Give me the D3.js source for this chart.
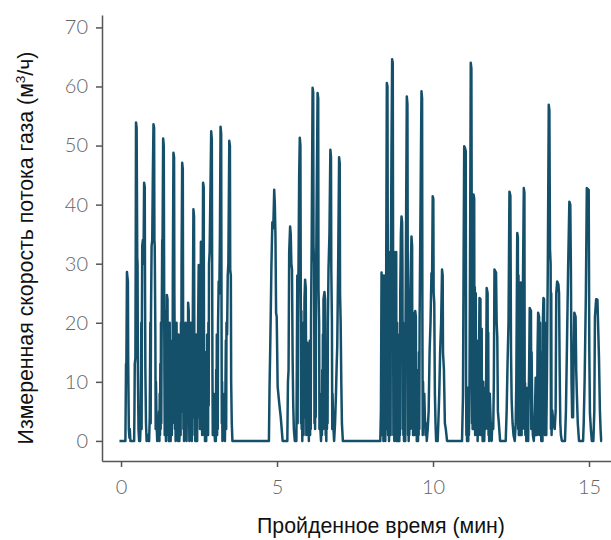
<!DOCTYPE html>
<html>
<head>
<meta charset="utf-8">
<script src="https://cdn.jsdelivr.net/npm/d3@7"></script>
<style>
  body { margin: 0; background: #fff; }
  .tick text { font-family: Lato, "Open Sans", sans-serif; font-weight: 300; fill: #666; }
  .title { font-family: "Liberation Sans", Arial, sans-serif; fill: #111; }
</style>
</head>
<body>
<script>
var burst1 = [[-0.05,0],[0.14,0],[0.16,13],[0.17,12],[0.19,28.6],[0.20,28],[0.22,27],[0.23,13],[0.25,2],[0.27,0.5],[0.28,2],[0.30,0],
  [0.42,0],[0.43,5],[0.44,13],[0.46,14],[0.47,30],[0.48,53.9],[0.50,53],[0.51,42],[0.52,31],[0.53,30],[0.54,12],[0.56,2],[0.58,0],
  [0.61,0],[0.63,3],[0.65,20],[0.66,2],[0.67,22],[0.68,33],[0.70,34],[0.72,30],[0.74,43.7],[0.76,43],[0.77,25],[0.78,12],[0.80,3],[0.82,0],[0.85,1],[0.87,0],
  [0.90,0],[0.92,4],[0.94,20],[0.95,3],[0.96,21],[0.98,33],[1.00,34],[1.02,45],[1.04,53.6],[1.06,53],[1.07,34],[1.08,33],[1.10,18],[1.11,2],[1.12,10],[1.14,3],[1.16,0],
  [1.20,1],[1.22,5],[1.23,0],[1.24,8],[1.25,1],[1.26,13],[1.27,2],[1.28,20],[1.29,3],[1.30,16],[1.32,34],[1.33,33],[1.35,51.2],[1.37,50],
  [1.38,30],[1.39,12],[1.40,1],[1.41,8],[1.42,2],[1.43,10],[1.44,0],[1.45,22],[1.46,15],[1.47,24.7],[1.49,24],[1.50,10],[1.51,1],[1.52,6],
  [1.53,0],[1.54,12],[1.55,4],[1.56,20],[1.57,2],[1.58,8],[1.59,0],[1.60,3],[1.61,10],[1.62,14],[1.63,1],[1.64,17],[1.65,3],[1.66,28],
  [1.68,48.8],[1.70,48],[1.71,25],[1.72,16],[1.73,2],[1.74,8],[1.75,0],[1.76,15],[1.77,4],[1.78,20],[1.79,1],[1.80,12],[1.81,3],[1.82,5],
  [1.83,0],[1.84,18],[1.85,2],[1.86,10],[1.87,0],[1.88,3],[1.89,7],[1.90,12],[1.91,1],[1.92,20],[1.93,5],[1.94,30],[1.96,47.1],[1.98,46],
  [1.99,20],[2.00,2],[2.01,10],[2.02,0],[2.03,15],[2.04,3],[2.05,8],[2.06,1],[2.07,20],[2.08,4],[2.09,12],[2.10,0],[2.11,5],[2.12,9],
  [2.13,18],[2.14,3],[2.15,23.4],[2.17,22],[2.18,10],[2.19,0],[2.20,3],[2.21,8],[2.22,15],[2.23,2],[2.24,20],[2.25,1],[2.26,8],[2.27,0],
  [2.28,15],[2.29,4],[2.30,20],[2.32,39.2],[2.34,38],[2.35,15],[2.36,1],[2.37,5],[2.38,0],[2.39,12],[2.40,3],[2.41,18],[2.42,1],[2.43,8],
  [2.44,0],[2.45,15],[2.46,4],[2.47,20],[2.49,29.8],[2.51,29],[2.52,15],[2.53,2],[2.54,10],[2.56,33.7],[2.57,20],[2.58,3],[2.59,12],
  [2.60,1],[2.61,20],[2.63,43.7],[2.65,43],[2.66,15],[2.67,1],[2.68,8],[2.69,0],[2.70,15],[2.71,3],[2.72,5],[2.73,0],[2.74,12],[2.75,2],
  [2.76,18],[2.77,4],[2.78,10],[2.79,1],[2.80,20],[2.81,6],[2.82,30],[2.84,32],[2.86,40],[2.89,52.4],[2.91,51],[2.92,30],[2.93,12],
  [2.94,1],[2.95,3],[2.97,8],[2.99,2],[3.01,0],[3.03,5],[3.04,0],[3.05,12],[3.06,2],[3.07,18],[3.08,1],[3.09,10],[3.10,2],[3.11,20],
  [3.13,27],[3.15,25],[3.17,35],[3.19,53.2],[3.21,52],[3.22,25],[3.23,3],[3.24,10],[3.25,0],[3.26,4],[3.28,6],[3.30,2],[3.32,8],[3.33,0],
  [3.34,5],[3.36,17],[3.37,2],[3.38,20],[3.40,18],[3.42,28],[3.44,30],[3.47,50.8],[3.49,50],[3.50,29],[3.52,28],[3.53,10],[3.55,3],[3.57,0]];

var burst2 = [[4.74,0],[4.76,9],[4.78,15],[4.80,22],[4.82,29.5],[4.85,37],[4.88,36],[4.91,42.5],[4.93,40],[4.95,34.6],[4.97,21.7],[4.99,21],
  [5.02,9.2],[5.07,6.4],[5.12,4],[5.18,0],
  [5.33,0],[5.35,10],[5.37,12],[5.39,32],[5.42,36.3],[5.44,35],[5.46,30],[5.48,29],[5.50,14],[5.52,6],[5.54,2],[5.57,0],[5.62,0],[5.63,8],
  [5.65,28],[5.66,3],[5.67,20],[5.69,30],[5.71,45],[5.73,51.3],[5.75,50],[5.76,28],[5.77,3],[5.78,22],[5.79,2],[5.80,10],[5.81,0],[5.82,15],
  [5.83,3],[5.84,20],[5.85,1],[5.86,14],[5.87,4],[5.88,24],[5.90,27.3],[5.92,26],[5.93,15],[5.94,1],[5.95,8],[5.96,2],[5.97,16.6],[5.99,14],
  [6.00,1],[6.01,6],[6.02,0],[6.03,12],[6.04,3],[6.05,17],[6.06,1],[6.07,8],[6.08,2],[6.09,20],[6.11,33],[6.14,59.8],[6.16,59],[6.17,33],
  [6.19,30],[6.20,3],[6.21,18],[6.22,2],[6.23,12],[6.24,4],[6.25,25],[6.27,40],[6.30,58.9],[6.32,58],[6.33,25.6],[6.35,20],[6.36,2],[6.37,8],
  [6.39,2],[6.41,0],[6.43,5],[6.44,1],[6.45,12],[6.46,3],[6.47,18],[6.48,2],[6.49,24],[6.52,25.2],[6.54,24],[6.55,14],[6.56,1],[6.57,5],
  [6.58,0],[6.59,12],[6.60,2],[6.61,15],[6.62,3],[6.63,20],[6.65,29],[6.68,35],[6.71,49.3],[6.73,48],[6.74,29],[6.76,20],[6.77,2],[6.78,8],
  [6.80,3],[6.83,0],[6.86,3],[6.89,8],[6.91,12.5],[6.93,16],[6.96,30],[6.99,48],[7.01,47],[7.02,25],[7.04,20],[7.06,10],[7.08,3],[7.11,0]];

var burst3 = [[8.31,0],[8.33,5],[8.35,28.5],[8.36,2],[8.37,28],[8.38,1],[8.39,5],[8.40,27],[8.41,0],[8.42,10],[8.43,28],[8.44,1],[8.45,3],
  [8.46,25],[8.47,0],[8.48,8],[8.49,2],[8.50,30],[8.52,60.6],[8.54,60],[8.55,32],[8.56,1],[8.57,10],[8.58,32],[8.59,0],[8.60,5],[8.61,30],
  [8.62,2],[8.63,15],[8.64,1],[8.65,32],[8.67,50],[8.69,64.6],[8.71,64],[8.72,32],[8.73,1],[8.74,8],[8.75,32],[8.76,0],[8.77,5],[8.78,31],
  [8.79,2],[8.80,12],[8.81,1],[8.82,32],[8.83,0],[8.84,3],[8.85,20],[8.86,1],[8.87,6],[8.88,0],[8.89,18],[8.90,2],[8.91,3],[8.92,0],[8.93,12],
  [8.94,1],[8.95,25],[8.97,35],[8.99,38],[9.01,37],[9.02,30],[9.03,2],[9.04,20],[9.05,1],[9.06,5],[9.07,0],[9.08,15],[9.09,2],[9.10,8],
  [9.11,0],[9.12,20],[9.14,40],[9.16,58.3],[9.18,57],[9.19,30],[9.20,1],[9.21,15],[9.22,0],[9.23,3],[9.24,1],[9.25,12],[9.26,2],[9.27,25],
  [9.29,30],[9.31,34.6],[9.33,33],[9.34,2],[9.35,15],[9.36,1],[9.37,21.7],[9.39,20],[9.40,1],[9.41,8],[9.42,2],[9.43,22],[9.45,21],[9.46,1],
  [9.47,8],[9.48,0],[9.49,3],[9.50,1],[9.51,12],[9.52,0],[9.53,5],[9.54,1],[9.55,15],[9.56,2],[9.57,20],[9.60,40],[9.63,59.2],[9.65,58],
  [9.66,20],[9.67,1],[9.68,10],[9.70,3],[9.72,8],[9.74,4],[9.76,1],[9.78,3],[9.80,0],[9.83,2],[9.86,5],[9.89,15],[9.92,20],[9.95,28.4],
  [9.97,27],[9.99,41.4],[10.01,41],[10.02,25],[10.04,23.4],[10.06,8],[10.08,3],[10.10,0],[10.15,0],[10.17,3],[10.20,8],[10.23,15.4],
  [10.26,20],[10.29,29],[10.31,28],[10.32,15],[10.35,12],[10.38,3],[10.41,2],[10.45,0]];

var burst4 = [[10.93,0],[10.96,7.5],[10.98,30],[11.00,49.9],[11.03,49.5],[11.05,49],[11.06,8.6],[11.07,1],[11.08,6],[11.09,0],[11.10,9],
  [11.11,1],[11.12,5],[11.13,0],[11.14,8],[11.15,1],[11.17,10],[11.19,35],[11.21,64],[11.23,63],[11.24,39.2],[11.25,3],[11.26,39],[11.27,2],
  [11.28,30],[11.30,41.7],[11.32,41],[11.33,2],[11.34,26],[11.35,1],[11.37,25],[11.38,2],[11.40,17],[11.41,1],[11.42,12],[11.43,0],[11.45,8],
  [11.46,1],[11.47,12],[11.49,24.2],[11.52,24],[11.53,1],[11.54,12],[11.55,2],[11.56,19],[11.57,1],[11.58,9.2],[11.59,0],[11.61,10],
  [11.62,1],[11.63,9],[11.64,0],[11.66,4],[11.68,2],[11.70,8],[11.72,25.9],[11.75,25],[11.76,2],[11.77,18.3],[11.78,1],[11.79,6],[11.80,0],
  [11.82,8],[11.85,3],[11.88,0],[11.90,3],[11.93,2],[11.95,10],[11.97,29],[12.02,28.5],[12.04,20],[12.06,17.6],[12.08,5],[12.11,3],[12.15,0],
  [12.33,0],[12.36,5],[12.39,13.4],[12.42,20],[12.45,42.2],[12.48,41.5],[12.50,15],[12.52,7],[12.55,3],[12.58,1],[12.62,0],[12.65,3],
  [12.67,10],[12.70,35.2],[12.72,34.5],[12.73,2],[12.74,28],[12.75,1],[12.76,23.4],[12.77,2],[12.78,24],[12.79,1],[12.81,26.8],[12.82,2],
  [12.83,20],[12.84,1],[12.85,15],[12.86,2],[12.88,25],[12.91,42.8],[12.93,42],[12.94,2],[12.95,9.8],[12.96,1],[12.98,9],[12.99,0],
  [13.01,8],[13.02,1],[13.04,9],[13.05,0],[13.06,5],[13.08,12],[13.10,22.5],[13.14,22],[13.15,2],[13.16,15],[13.18,5],[13.20,1],[13.23,0],
  [13.26,3],[13.29,10.7],[13.30,1],[13.32,10],[13.33,1],[13.35,15],[13.37,21.7],[13.40,21],[13.41,1],[13.43,20],[13.44,2],[13.46,10],
  [13.47,0],[13.48,15],[13.49,1],[13.50,8],[13.51,0],[13.52,20],[13.54,24.2],[13.56,24],[13.57,2],[13.58,15],[13.59,1],[13.60,20],[13.61,2],
  [13.62,15],[13.63,1],[13.65,10],[13.68,30],[13.71,56.9],[13.73,56],[13.75,32.4],[13.77,30],[13.78,2],[13.79,25],[13.80,1],[13.82,5.2],
  [13.86,3],[13.90,2],[13.93,5],[13.95,25],[13.98,27],[14.02,26.5],[14.04,25],[14.06,12],[14.08,3],[14.10,1],[14.13,0],[14.23,0],[14.26,5],
  [14.29,15],[14.33,29],[14.37,40.5],[14.40,40],[14.42,29],[14.44,10],[14.46,4],[14.49,4],[14.51,15],[14.53,21.7],[14.57,21],[14.59,12],
  [14.61,8],[14.64,3],[14.68,0],[14.81,0],[14.83,3],[14.86,10.3],[14.90,25],[14.93,42.8],[14.99,42.5],[15.01,15],[15.03,4.7],[15.06,2],
  [15.09,0],[15.14,0],[15.17,5],[15.19,21],[15.23,24],[15.27,23.9],[15.29,20],[15.32,14],[15.35,5],[15.37,2],[15.39,0],[15.42,0]];

var xTicks = [0, 5, 10, 15];
var yTicks = [0, 10, 20, 30, 40, 50, 60, 70];

var width = 611,
    height = 540;

var series = burst1.concat(burst2, burst3, burst4);

var svg = d3.select("body").append("svg")
    .attr("width", width)
    .attr("height", height);

var x = d3.scaleLinear().domain([-0.61, 15.705]).range([102, 611]);
var y = d3.scaleLinear().domain([-3.4, 72.1]).range([461, 15]);

// the flow line
var line = d3.line()
    .x(function(d) { return x(d[0]); })
    .y(function(d) { return y(d[1]); });

svg.append("path")
    .datum(series)
    .attr("fill", "none")
    .attr("stroke", "#15506b")
    .attr("stroke-width", 2.5)
    .attr("stroke-linejoin", "round")
    .attr("d", line);

// axes
var xAxis = svg.append("g")
    .attr("transform", "translate(0,461)")
    .call(d3.axisBottom(x).tickValues(xTicks).tickSize(6).tickSizeOuter(0).tickPadding(13));

var yAxis = svg.append("g")
    .attr("transform", "translate(102,0)")
    .call(d3.axisLeft(y).tickValues(yTicks).tickSize(6).tickSizeOuter(0).tickPadding(8));

[xAxis, yAxis].forEach(function(g) {
    g.select(".domain").attr("stroke", "#555").attr("stroke-width", 1.5);
    g.selectAll(".tick line").attr("stroke", "#555").attr("stroke-width", 1.5);
    g.selectAll(".tick text").attr("font-size", 20).style("font-family", null);
});

// titles
svg.append("text")
    .attr("class", "title")
    .attr("x", 381)
    .attr("y", 533)
    .attr("text-anchor", "middle")
    .attr("font-size", 21.3)
    .text("Пройденное время (мин)");

var yTitle = svg.append("text")
    .attr("class", "title")
    .attr("transform", "translate(33,248) rotate(-90)")
    .attr("text-anchor", "middle")
    .attr("font-size", 21.3);
yTitle.append("tspan").text("Измеренная скорость потока газа (м");
yTitle.append("tspan").attr("font-size", 13.5).attr("dy", -8).text("3");
yTitle.append("tspan").attr("dy", 8).text("/ч)");
</script>
</body>
</html>
